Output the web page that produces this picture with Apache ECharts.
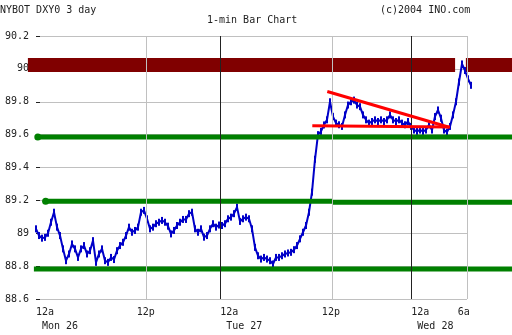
<!DOCTYPE html>
<html><head><meta charset="utf-8">
<script src="https://cdn.jsdelivr.net/npm/echarts@6/dist/echarts.min.js"></script>
<style>html,body{margin:0;padding:0;background:#fff}#c{width:512px;height:335px}</style>
</head><body><div id="c"></div>
<script>
// 1-minute bar closes, sampled per bar slot (x = slot index)
const prices = [
89.027,88.986,88.970,88.975,89.000,89.067,89.128,89.037,88.986,88.905,
88.833,88.874,88.935,88.905,88.853,88.905,88.925,88.874,88.894,88.955,
88.823,88.874,88.905,88.833,88.823,88.853,88.840,88.894,88.925,88.945,
88.986,89.037,89.006,89.017,89.037,89.128,89.139,89.088,89.027,89.037,
89.058,89.067,89.078,89.067,89.043,88.996,89.017,89.047,89.067,89.084,
89.084,89.119,89.128,89.027,89.006,89.027,88.976,88.986,89.027,89.058,
89.037,89.050,89.047,89.058,89.088,89.098,89.119,89.159,89.072,89.088,
89.098,89.088,89.027,88.914,88.863,88.843,88.853,88.843,88.833,88.813,
88.853,88.853,88.863,88.874,88.880,88.884,88.900,88.925,88.966,89.006,
89.047,89.128,89.250,89.450,89.600,89.620,89.659,89.690,89.800,89.710,
89.670,89.660,89.650,89.720,89.780,89.800,89.810,89.780,89.770,89.720,
89.690,89.670,89.680,89.690,89.680,89.690,89.680,89.690,89.720,89.690,
89.680,89.690,89.670,89.660,89.680,89.650,89.628,89.620,89.628,89.620,
89.628,89.660,89.628,89.710,89.750,89.700,89.628,89.615,89.650,89.720,
89.800,89.920,90.030,89.990,89.940,89.900
];
const xMax = 143.67;          // right edge of the plot frame, in bar slots
const xFullMin = -12, xFullMax = 158.67;  // whole-width overlay range, in bar slots
const yMin = 88.6, yMax = 90.2, yInterval = 0.2;
const noonLabelPos = [36.6, 98.3, 142.6];
const noonLabels = ['12p', '12p', '6a'];
const midnightPos = [0, 61.4, 125.1];
const midnightLabels = ['12a\n Mon 26', '12a\n Tue 27', '12a\n Wed 28'];
const grayLines = [36.9, 98.8, 143.6];
const blackLines = [61.4, 125.1];
// horizontal study lines
const maroonLevel = 90.023;
const maroonFrom = [-2.7, 143.3];
const maroonTo = [139.7, 158.7];
const greenLevels = [89.585, 89.195, 89.188, 88.782];
const greenFrom = [0.6, 3.2, 98.7, -0.7];
const greenTo = [158.7, 98.7, 158.7, 158.7];
const greenDot = [true, true, false, false];
const trendA = [[97.1, 89.862], [137.7, 89.645]];
const trendB = [[92.1, 89.654], [138.0, 89.646]];

const FONT = 'DejaVu Sans Mono';
const TXT = '#222';
const OV = { xAxisIndex: 2, yAxisIndex: 2 };
const series = [];
maroonFrom.forEach((f, k) => series.push(Object.assign({
  type: 'line', symbol: 'none', silent: true,
  data: [[f, maroonLevel], [maroonTo[k], maroonLevel]],
  lineStyle: { color: '#800000', width: 14, cap: 'butt' }, z: 2
}, OV)));
series.push(Object.assign({
  type: 'line', silent: true,
  data: prices.map((v, i) => [i, v]),
  symbol: 'rect', symbolSize: [2, 7], showSymbol: true, showAllSymbol: true,
  itemStyle: { color: '#0000c8', borderWidth: 0 },
  lineStyle: { color: '#0000c8', width: 2 },
  markLine: {
    silent: true, symbol: ['none', 'none'], label: { show: false },
    data: grayLines.map(x => ({ xAxis: x, lineStyle: { color: '#c0c0c0', width: 1, type: 'solid' } }))
      .concat(blackLines.map(x => ({ xAxis: x, lineStyle: { color: '#222', width: 1, type: 'solid' } })))
  },
  z: 3
}, OV));
greenLevels.forEach((v, k) => series.push(Object.assign({
  type: 'line', symbol: 'none', silent: true,
  data: [greenDot[k] ? { value: [greenFrom[k], v], symbol: 'circle', symbolSize: 7 } : [greenFrom[k], v], [greenTo[k], v]],
  itemStyle: { color: '#008000', borderWidth: 0 },
  lineStyle: { color: '#008000', width: 5 }, z: 4
}, OV)));
[trendA, trendB].forEach(t => series.push(Object.assign({
  type: 'line', symbol: 'none', silent: true, data: t,
  lineStyle: { color: '#ff0000', width: 3 }, z: 5
}, OV)));

const chart = echarts.init(document.getElementById('c'), null, { renderer: 'canvas' });
chart.setOption({
  animation: false,
  backgroundColor: '#fff',
  title: [
    { text: 'NYBOT DXY0 3 day', left: 0, top: 4, padding: 0, textStyle: { fontFamily: FONT, fontSize: 10, fontWeight: 'normal', color: TXT, lineHeight: 12 } },
    { text: '1-min Bar Chart', left: 207, top: 14, padding: 0, textStyle: { fontFamily: FONT, fontSize: 10, fontWeight: 'normal', color: TXT, lineHeight: 12 } },
    { text: '(c)2004 INO.com', left: 380, top: 4, padding: 0, textStyle: { fontFamily: FONT, fontSize: 10, fontWeight: 'normal', color: TXT, lineHeight: 12 } }
  ],
  grid: [
    { left: 36, right: 45, top: 36, bottom: 36, containLabel: false, outerBoundsMode: 'none' },
    { left: 0, right: 0, top: 36, bottom: 36, containLabel: false, outerBoundsMode: 'none' }
  ],
  xAxis: [
    { type: 'value', gridIndex: 0, min: 0, max: xMax, axisLine: { show: false }, axisTick: { show: false }, splitLine: { show: false },
      axisLabel: { customValues: noonLabelPos, align: 'center', margin: 6, lineHeight: 14, fontFamily: FONT, fontSize: 10, color: TXT,
        formatter: v => { let b = 0; noonLabelPos.forEach((p, k) => { if (Math.abs(p - v) < Math.abs(noonLabelPos[b] - v)) b = k; }); return noonLabels[b]; } } },
    { type: 'value', gridIndex: 0, min: 0, max: xMax, position: 'bottom', axisLine: { show: false }, axisTick: { show: false }, splitLine: { show: false },
      axisLabel: { customValues: midnightPos, align: 'left', margin: 6, lineHeight: 14, fontFamily: FONT, fontSize: 10, color: TXT,
        formatter: v => { let b = 0; midnightPos.forEach((p, k) => { if (Math.abs(p - v) < Math.abs(midnightPos[b] - v)) b = k; }); return midnightLabels[b]; } } },
    { type: 'value', gridIndex: 1, min: xFullMin, max: xFullMax, show: false }
  ],
  yAxis: [
    { type: 'value', gridIndex: 0, min: yMin, max: yMax, interval: yInterval, axisLine: { show: false },
      axisTick: { show: true, inside: true, length: 4, lineStyle: { color: '#222' } },
      splitLine: { show: true, lineStyle: { color: '#c0c0c0', width: 1 } },
      axisLabel: { margin: 7, fontFamily: FONT, fontSize: 10, color: TXT } },
    { type: 'value', gridIndex: 0, position: 'right', min: yMin, max: yMax, interval: yInterval, axisLine: { show: false },
      axisTick: { show: true, length: 4, lineStyle: { color: '#222' } },
      splitLine: { show: false }, axisLabel: { show: false } },
    { type: 'value', gridIndex: 1, min: yMin, max: yMax, interval: yInterval, show: false }
  ],
  series: series
});
</script></body></html>
